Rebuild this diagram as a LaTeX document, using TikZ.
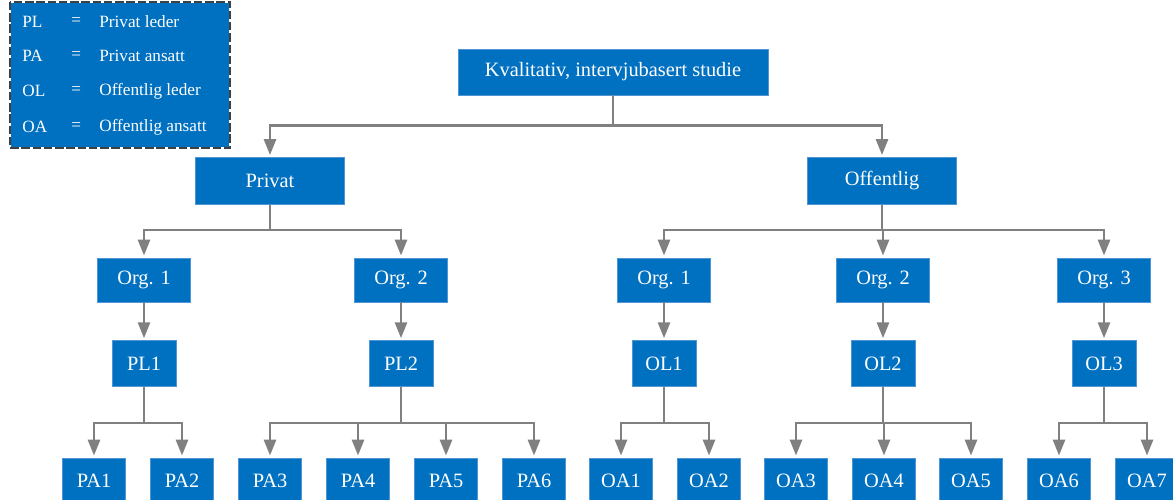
\documentclass[tikz,border=0pt]{standalone}
\usepackage{fontspec}
\setmainfont{Liberation Serif}
\usetikzlibrary{arrows.meta, positioning}

\definecolor{boxblue}{RGB}{0,112,192}
\definecolor{boxedge}{RGB}{80,150,215}
\definecolor{linkgray}{RGB}{128,128,128}
\definecolor{keyedge}{RGB}{64,64,64}

\begin{document}
\begin{tikzpicture}[
  x=0.02cm, y=-0.02cm,
  unit/.style = {
    rectangle, fill=boxblue, draw=boxedge, line width=0.4pt,
    text=white, inner sep=0pt, text centered,
    font=\fontsize{11.6}{14}\selectfont
  },
  study/.style  = {unit, minimum width=6.2cm,  minimum height=0.92cm},
  sector/.style = {unit, minimum width=2.98cm, minimum height=0.94cm},
  org/.style    = {unit, minimum width=1.86cm, minimum height=0.88cm},
  lead/.style   = {unit, minimum width=1.28cm, minimum height=0.92cm},
  staff/.style  = {unit, minimum width=1.26cm, minimum height=0.92cm},
  keytext/.style = {text=white, inner sep=0pt, anchor=west,
    font=\fontsize{9.8}{12}\selectfont},
  arrow/.style = {-{Triangle[width=6.8pt, length=9pt]}, line width=1.5pt,
    draw=linkgray, shorten >=1.2pt}
]
\useasboundingbox (0,0) rectangle (1173,500);
\clip (0,0) rectangle (1173,500);
%--- FORKLARING ---
\fill[boxblue] (11,3) rectangle (229,147);
\draw[draw=keyedge, line width=1.1pt, dash pattern=on 4.8pt off 1.6pt]
  (10,2) rectangle (230,148);
\node[keytext] (k1a) at (22,22)  {PL};
\node[keytext] (k1b) at (71,22)  {=};
\node[keytext] (k1c) at (99,22)  {Privat leder};
\node[keytext] (k2a) at (22,56)  {PA};
\node[keytext] (k2b) at (71,56)  {=};
\node[keytext] (k2c) at (99,56)  {Privat ansatt};
\node[keytext] (k3a) at (22,91)  {OL};
\node[keytext] (k3b) at (71,91)  {=};
\node[keytext] (k3c) at (99,91)  {Offentlig leder};
\node[keytext] (k4a) at (22,127) {OA};
\node[keytext] (k4b) at (71,127) {=};
\node[keytext] (k4c) at (99,127) {Offentlig ansatt};
%--- STUDIE OG SEKTORER ---
\node[study]  (studie) at (613,72)  {Kvalitativ, intervjubasert studie};
\node[sector] (privat) at (270,181) {Privat};
\node[sector] (offent) at (882,181) {Offentlig};
%--- ORGANISASJONER ---
\node[org] (porg1) at (144,280)  {Org. 1};
\node[org] (porg2) at (401,280)  {Org. 2};
\node[org] (oorg1) at (664,280)  {Org. 1};
\node[org] (oorg2) at (883,280)  {Org. 2};
\node[org] (oorg3) at (1104,280) {Org. 3};
%--- LEDERE ---
\node[lead, below=0.76cm of porg1] (pl1) {PL1};
\node[lead, below=0.76cm of porg2] (pl2) {PL2};
\node[lead, below=0.76cm of oorg1] (ol1) {OL1};
\node[lead, below=0.76cm of oorg2] (ol2) {OL2};
\node[lead, below=0.76cm of oorg3] (ol3) {OL3};
%--- ANSATTE ---
\node[staff] (pa1) at (94,481)   {PA1};
\node[staff] (pa2) at (182,481)  {PA2};
\node[staff] (pa3) at (270,481)  {PA3};
\node[staff] (pa4) at (358,481)  {PA4};
\node[staff] (pa5) at (446,481)  {PA5};
\node[staff] (pa6) at (534,481)  {PA6};
\node[staff] (oa1) at (621,481)  {OA1};
\node[staff] (oa2) at (709,481)  {OA2};
\node[staff] (oa3) at (796,481)  {OA3};
\node[staff] (oa4) at (884,481)  {OA4};
\node[staff] (oa5) at (971,481)  {OA5};
\node[staff] (oa6) at (1059,481) {OA6};
\node[staff] (oa7) at (1147,481) {OA7};
%--- PILER ---
\draw[arrow] (studie.south) -- ++(0,30) -| (privat.north);
\draw[arrow] (studie.south) -- ++(0,30) -| (offent.north);
\draw[arrow] (privat.south) -- ++(0,25) -| (porg1.north);
\draw[arrow] (privat.south) -- ++(0,25) -| (porg2.north);
\draw[arrow] (offent.south) -- ++(0,25) -| (oorg1.north);
\draw[arrow] (offent.south) -- ++(0,25) -| (oorg2.north);
\draw[arrow] (offent.south) -- ++(0,25) -| (oorg3.north);
\draw[arrow] (porg1) -- (pl1);
\draw[arrow] (porg2) -- (pl2);
\draw[arrow] (oorg1) -- (ol1);
\draw[arrow] (oorg2) -- (ol2);
\draw[arrow] (oorg3) -- (ol3);
\draw[arrow] (pl1.south) -- ++(0,36) -| (pa1.north);
\draw[arrow] (pl1.south) -- ++(0,36) -| (pa2.north);
\draw[arrow] (pl2.south) -- ++(0,36) -| (pa3.north);
\draw[arrow] (pl2.south) -- ++(0,36) -| (pa4.north);
\draw[arrow] (pl2.south) -- ++(0,36) -| (pa5.north);
\draw[arrow] (pl2.south) -- ++(0,36) -| (pa6.north);
\draw[arrow] (ol1.south) -- ++(0,36) -| (oa1.north);
\draw[arrow] (ol1.south) -- ++(0,36) -| (oa2.north);
\draw[arrow] (ol2.south) -- ++(0,36) -| (oa3.north);
\draw[arrow] (ol2.south) -- ++(0,36) -| (oa4.north);
\draw[arrow] (ol2.south) -- ++(0,36) -| (oa5.north);
\draw[arrow] (ol3.south) -- ++(0,36) -| (oa6.north);
\draw[arrow] (ol3.south) -- ++(0,36) -| (oa7.north);
\end{tikzpicture}
\end{document}
